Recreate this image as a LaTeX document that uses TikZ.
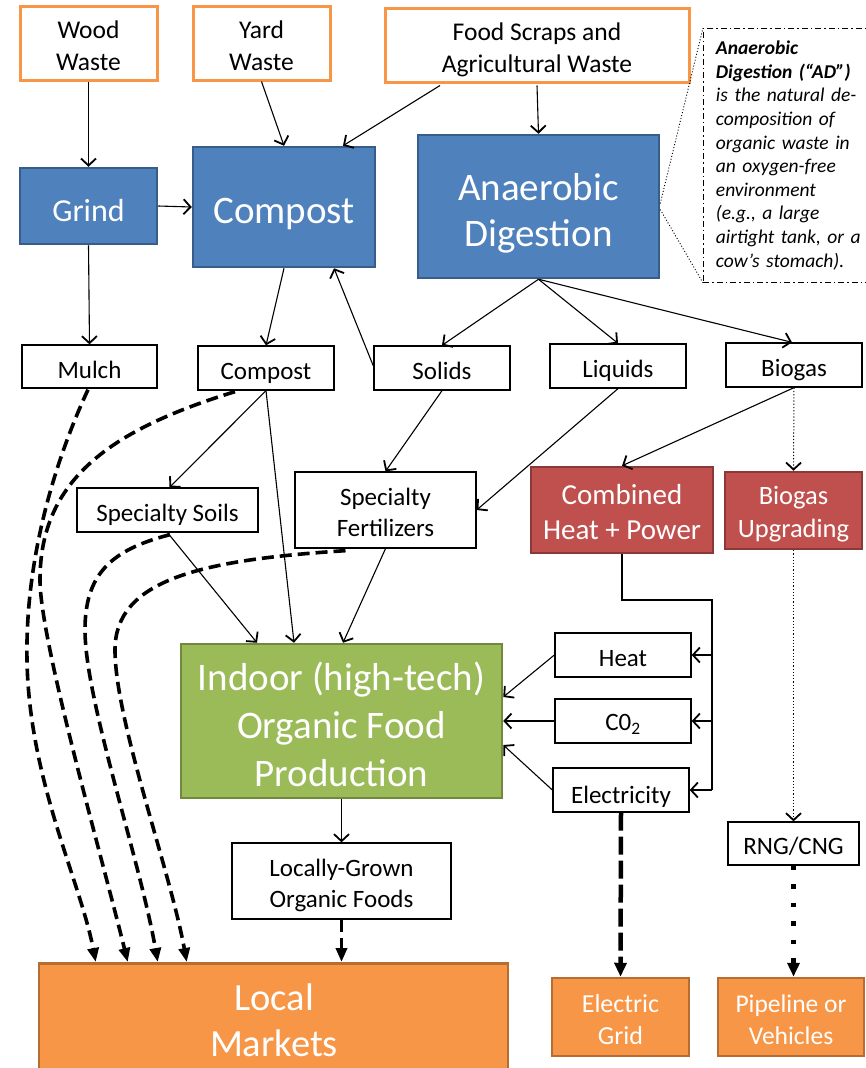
\documentclass[tikz,border=0pt]{standalone}
\usepackage{fontspec}
\setmainfont{Carlito}
\usetikzlibrary{arrows.meta,calc}
\definecolor{orng}{HTML}{F79646}
\definecolor{orngB}{HTML}{B66D31}
\definecolor{blueF}{HTML}{4F81BD}
\definecolor{blueB}{HTML}{385D8A}
\definecolor{redF}{HTML}{C0504D}
\definecolor{redB}{HTML}{8C3836}
\definecolor{grnF}{HTML}{9BBB59}
\definecolor{grnB}{HTML}{71893F}
\newcommand\boxtext[2]{\raisebox{-#1}[\height][\depth]{\begin{tabular}{@{}c@{}}#2\end{tabular}}}
\begin{document}
\begin{tikzpicture}[x=1pt,y=-1pt,
  every node/.style={inner sep=0pt},
  wbox/.style={draw=black, line width=1.3pt, fill=white, align=center, font=\fontsize{25}{31}\selectfont},
  srcbox/.style={draw=orng, line width=3pt, fill=white, align=center, font=\fontsize{25.5}{32}\selectfont},
  bluebox/.style={draw=blueB, line width=2.5pt, fill=blueF, text=white, align=center},
  redbox/.style={draw=redB, line width=2.5pt, fill=redF, text=white, align=center},
  grnbox/.style={draw=grnB, line width=2.5pt, fill=grnF, text=white, align=center, font=\fontsize{39}{48}\selectfont},
  outbox/.style={draw=orngB, line width=2.5pt, fill=orng, text=white, align=center},
  conn/.style={line width=1.1pt, -{Straight Barb[length=7pt,width=15pt,line width=1.8pt]}},
  dotconn/.style={line width=1pt, dash pattern=on 1.2pt off 2pt, -{Straight Barb[length=7pt,width=15pt,line width=1.8pt]}},
  thickdash/.style={line width=3.6pt, dash pattern=on 12pt off 6pt, -{Triangle[length=14pt,width=11pt]}},
  longdash/.style={line width=4.5pt, dash pattern=on 18pt off 6pt, -{Triangle[length=14pt,width=12pt]}},
  thickdot/.style={line width=4.5pt, dash pattern=on 4.5pt off 14pt, -{Triangle[length=14pt,width=12pt]}},
  annotline/.style={line width=0.9pt, dash pattern=on 1pt off 2pt}
]
\fill[white] (0,0) rectangle (866,1068);
\useasboundingbox (0,0) rectangle (866,1068);

% sources
\node[srcbox, minimum width=137pt, minimum height=74pt] (wood) at (88.5,43) {\boxtext{5.5pt}{Wood\\Waste}};
\node[srcbox, minimum width=137pt, minimum height=74pt] (yard) at (261.5,43) {\boxtext{5.5pt}{Yard\\Waste}};
\node[srcbox, minimum width=304pt, minimum height=74pt] (food) at (537,45) {\boxtext{5.2pt}{Food Scraps and\\Agricultural Waste}};

% processes
\node[bluebox, minimum width=137pt, minimum height=76pt, font=\fontsize{32}{38}\selectfont] (grind) at (88.5,206) {\boxtext{7.4pt}{Grind}};
\node[bluebox, minimum width=182pt, minimum height=120pt, font=\fontsize{39}{46}\selectfont] (compostB) at (284,207) {\boxtext{7.7pt}{Compost}};
\node[bluebox, minimum width=241pt, minimum height=143pt, font=\fontsize{39}{46}\selectfont] (ad) at (538.5,206.5) {\boxtext{8.2pt}{Anaerobic\\Digestion}};

% annotation
\node[draw=black, line width=0.9pt, dash pattern=on 6pt off 3pt on 1.5pt off 3pt,
      minimum width=175pt, minimum height=254pt, anchor=north west,
      text width=150pt, align=left, inner xsep=9pt,
      font=\fontsize{19.5}{23.6}\selectfont\itshape] (annot) at (703,28)
 {\textbf{Anaerobic}\\\textbf{Digestion (“AD”)}\\is the natural de-\\composition of\\organic waste in\\an oxygen-free\\environment\\(e.g., a large\\airtight tank, or a\\cow’s stomach).};
\draw[annotline] ($(ad.east)+(0,-3)$) -- (annot.north west);
\draw[annotline] ($(ad.east)+(0,3)$) -- (annot.south west);

% products row
\node[wbox, minimum width=135pt, minimum height=43pt] (mulch) at (89.5,366.5) {\boxtext{5.3pt}{Mulch}};
\node[wbox, minimum width=136pt, minimum height=44pt] (compostS) at (266,368) {\boxtext{4.8pt}{Compost}};
\node[wbox, minimum width=136pt, minimum height=44pt] (solids) at (442,368) {\boxtext{4.8pt}{Solids}};
\node[wbox, minimum width=136pt, minimum height=44pt] (liquids) at (618,366) {\boxtext{4.8pt}{Liquids}};
\node[wbox, minimum width=136pt, minimum height=44pt] (biogas) at (794,365) {\boxtext{4.8pt}{Biogas}};

% third row
\node[wbox, minimum width=181pt, minimum height=44pt] (soils) at (167.5,510) {\boxtext{4.8pt}{Specialty Soils}};
\node[wbox, minimum width=181pt, minimum height=76pt] (fert) at (385.5,510) {\boxtext{4.3pt}{Specialty\\Fertilizers}};
\node[redbox, minimum width=182pt, minimum height=86pt, font=\fontsize{29}{35}\selectfont] (chp) at (622,510) {\boxtext{5pt}{Combined\\Heat + Power}};
\node[redbox, minimum width=137pt, minimum height=77pt, font=\fontsize{26.5}{33}\selectfont] (upg) at (793.5,510.5) {\boxtext{4.3pt}{Biogas\\Upgrading}};

% indoor
\node[grnbox, minimum width=321pt, minimum height=154pt] (indoor) at (341.5,721) {\boxtext{7.5pt}{Indoor (high-tech)\\Organic Food\\Production}};
\node[wbox, minimum width=136pt, minimum height=44pt] (heat) at (623,655) {\boxtext{4.8pt}{Heat}};
\node[wbox, minimum width=136pt, minimum height=44pt] (co2) at (623,721) {\boxtext{3.3pt}{C0\textsubscript{2}}};
\node[wbox, minimum width=136pt, minimum height=44pt] (elec) at (621,790) {\boxtext{7pt}{Electricity}};

\node[wbox, minimum width=219pt, minimum height=76pt] (lfood) at (341.5,881) {\boxtext{4.3pt}{Locally-Grown\\Organic Foods}};
\node[wbox, minimum width=131pt, minimum height=43pt] (rng) at (793.5,843.5) {\boxtext{4.3pt}{RNG/CNG}};

% outputs
\node[outbox, minimum width=469pt, minimum height=130pt, anchor=north] (market) at (273.5,962) {};
\node[text=white, align=center, font=\fontsize{38.5}{46}\selectfont] (marketlabel) at (274,1020) {Local\\Markets};
\node[outbox, minimum width=137pt, minimum height=78pt, font=\fontsize{26}{32}\selectfont] (grid) at (620.5,1017) {\boxtext{4.9pt}{Electric\\Grid}};
\node[outbox, minimum width=146pt, minimum height=78pt, font=\fontsize{25.5}{32}\selectfont] (pipe) at (791,1017) {\boxtext{4.7pt}{Pipeline or\\Vehicles}};

% connectors
\draw[conn] (wood.south) -- (grind.north);
\draw[conn] (yard.south) -- (compostB.north);
\draw[conn] ($(food.south)+(-97,2)$) -- ($(compostB.north)+(59,0)$);
\draw[conn] ($(food.south)+(0,2)$) -- (ad.north);
\draw[conn] (grind.east) -- (compostB.west);
\draw[conn] (grind.south) -- (mulch.north);
\draw[conn] (compostB.south) -- (compostS.north);
\draw[conn] ($(solids.west)+(0,-2)$) -- ($(compostB.south)+(50,0)$);
\draw[conn] (ad.south) -- (solids.north);
\draw[conn] (ad.south) -- (liquids.north);
\draw[conn] (ad.south) -- ($(biogas.north)+(-2,0)$);
\draw[conn] (compostS.south) -- ($(soils.north)+(2,0)$);
\draw[conn] (compostS.south) -- ($(indoor.north)+(-47.5,0)$);
\draw[conn] (solids.south) -- (fert.north);
\draw[conn] (liquids.south) -- (fert.east);
\draw[conn] (biogas.south) -- (chp.north);
\draw[dotconn] (biogas.south) -- (upg.north);
\draw[conn] (soils.south) -- ($(indoor.north)+(-84.5,0)$);
\draw[conn] (fert.south) -- ($(indoor.north)+(1.5,0)$);

\coordinate (bus) at (712,600);
\draw[line width=1.1pt] (chp.south) |- (bus) -- (bus |- elec.east);
\draw[conn] (bus |- heat.east) -- (heat.east);
\draw[conn] (bus |- co2.east) -- (co2.east);
\draw[conn] (bus |- elec.east) -- (elec.east);

\draw[conn] (heat.west) -- ($(indoor.east)+(0,-24)$);
\draw[conn] (co2.west) -- (indoor.east);
\draw[conn] (elec.west) -- ($(indoor.east)+(0,24)$);
\draw[conn] (indoor.south) -- (lfood.north);

\draw[thickdash] (lfood.south) -- (market.north -| lfood.south);
\draw[longdash] (elec.south) -- (grid.north);
\draw[dotconn] (upg.south) -- (rng.north);
\draw[thickdot] (rng.south) -- (rng.south |- pipe.north);

% dashed curves to market
\draw[thickdash] ($(mulch.south)+(-1.5,1)$) .. controls (60,450) and (25,550) .. (27,660)
   .. controls (29,780) and (80,880) .. ($(market.north west)+(58,0)$);
\draw[thickdash] ($(compostS.south)+(-31,1)$) .. controls (110,430) and (40,480) .. (40,580)
   .. controls (40,640) and (100,850) .. ($(market.north west)+(90,0)$);
\draw[thickdash] ($(soils.south)+(2.5,2)$) .. controls (110,550) and (85,575) .. (85,630)
   .. controls (85,700) and (140,860) .. ($(market.north west)+(120,0)$);
\draw[thickdash] ($(fert.south)+(-40,2)$) .. controls (200,560) and (115,580) .. (115,650)
   .. controls (115,720) and (170,870) .. ($(market.north west)+(149,0)$);
\end{tikzpicture}
\end{document}
